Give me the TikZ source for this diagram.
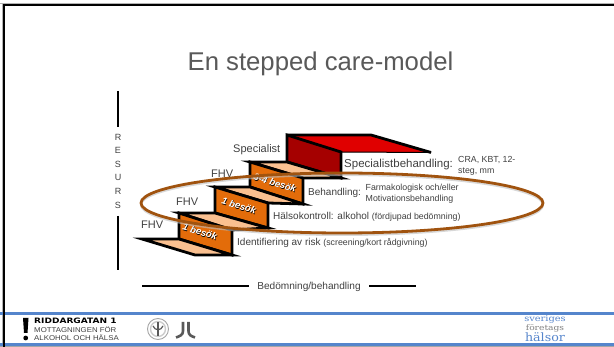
\documentclass[tikz,border=0pt]{standalone}
\usepackage{fontspec}
\setmainfont{Liberation Sans}
\newfontfamily\serifb{DejaVu Serif}
\newfontfamily\wideb{DejaVu Sans}
\definecolor{stepo}{HTML}{E36C0A}
\definecolor{tread}{HTML}{FAC090}
\definecolor{redtop}{HTML}{E00000}
\definecolor{reddark}{HTML}{A50000}
\definecolor{ringc}{HTML}{A0530F}
\definecolor{bluebar}{HTML}{5585CC}
\definecolor{txt}{HTML}{404040}
\definecolor{titlec}{HTML}{595959}
\tikzset{
 x=1pt,y=-1pt,
 stair/.style={draw=black,line width=2.8pt,line join=miter},
 lbl/.style={inner sep=0pt,text=txt,anchor=west,font=\fontsize{10}{12}\selectfont},
 lblb/.style={lbl,font=\fontsize{11}{13}\selectfont},
 small/.style={inner sep=0pt,text=txt,anchor=west,align=left,font=\fontsize{8.8}{11}\selectfont},
 visit/.style={inner sep=0pt,text=white,font=\bfseries\itshape\fontsize{9.5}{11}\selectfont},
 axisline/.style={draw=black,line width=2pt},
}
\begin{document}
\begin{tikzpicture}
\useasboundingbox (0,0) rectangle (614,347);
\fill[white] (0,0) rectangle (614,347);
\fill[gray!60] (0,3) rectangle (614,3.8);
\fill[gray!60] (2,3) rectangle (2.8,347);
\draw[black,line width=2.6pt] (4,347) -- (4,5) -- (614,5);
% title
\node[inner sep=0pt,text=titlec,font=\fontsize{25.7}{30}\selectfont] (title) at (320.5,64) {En stepped care-model};
% resurs axis
\node[inner sep=0pt,text=txt,align=center,font=\fontsize{9}{13.6}\selectfont] (res) at (118,171) {R\\E\\S\\U\\R\\S};
\coordinate (r1) at (118,91);
\coordinate (r1e) at (118,127);
\coordinate (r2) at (118,216);
\coordinate (r2e) at (118,270);
\draw[axisline] (r1) -- (r1e);
\draw[axisline] (r2) -- (r2e);
% stairs
\fill[redtop] (287,135) -- (371,135) -- (431,152.5) -- (341,152) -- cycle;
\draw[black,line width=1pt] (341,152) -- (431,152.5);
\draw[stair] (287,135) -- (371,135) -- (431,152.5);
\draw[stair,fill=reddark] (287,135) -- (341,152) -- (341,178) -- (287,162) -- cycle;
\draw[stair,fill=tread] (250,162) -- (287,162) -- (341,178) -- (303,178) -- cycle;
\draw[stair,fill=stepo] (250,162) -- (303,178) -- (303,204) -- (250,187) -- cycle;
\draw[stair,fill=tread] (215,187) -- (250,187) -- (303,204) -- (268,203) -- cycle;
\draw[stair,fill=stepo] (215,187) -- (268,203) -- (268,228) -- (215,213) -- cycle;
\draw[stair,fill=tread] (179,213) -- (215,213) -- (268,228) -- (232,230) -- cycle;
\draw[stair,fill=stepo] (179,213) -- (232,230) -- (232,255) -- (179,239) -- cycle;
\draw[stair,fill=tread] (142,239) -- (179,239) -- (232,255) -- (195,255) -- cycle;
% visit labels
\node[visit,rotate=-17] (v3) at (275,183) {\rlap{\raisebox{-.6pt}{\kern.6pt\textcolor{black}{3-4 besök}}}3-4 besök};
\node[visit,rotate=-17] (v2) at (239,206) {\rlap{\raisebox{-.6pt}{\kern.6pt\textcolor{black}{1 besök}}}1 besök};
\node[visit,rotate=-17] (v1) at (200,232) {\rlap{\raisebox{-.6pt}{\kern.6pt\textcolor{black}{1 besök}}}1 besök};
% role labels
\node[lblb] (s) at (233,150) {Specialist};
\node[lblb] (f3) at (211,174) {FHV};
\node[lblb] (f2) at (176,202) {FHV};
\node[lblb] (f1) at (141,225) {FHV};
% right labels
\node[lbl,font=\fontsize{11.5}{13}\selectfont] (a) at (344,165) {Specialistbehandling:};
\node[small] (a2) at (458,166) {CRA, KBT, 12-\\steg, mm};
\node[lbl] (b) at (308,193) {Behandling:};
\node[small] (b2) at (365.5,193.5) {Farmakologisk och/eller\\Motivationsbehandling};
\node[lbl] (c) at (273,217) {Hälsokontroll: alkohol \fontsize{8.8}{10}\selectfont(fördjupad bedömning)};
\node[lbl] (d) at (237,243) {Identifiering av risk \fontsize{8.8}{10}\selectfont(screening/kort rådgivning)};
% ring
\draw[gray!50,line width=2pt,opacity=.6] (342,205) ellipse [x radius=201,y radius=30];
\draw[ringc,line width=2.8pt] (342,203) ellipse [x radius=201,y radius=30];
% bottom axis
\node[inner sep=0pt,text=txt,font=\fontsize{10.1}{12}\selectfont] (bb) at (309,287) {Bedömning/behandling};
\coordinate (b1) at (142,286);
\coordinate (b1e) at (249,286);
\coordinate (b2s) at (369,286);
\coordinate (b2e) at (416,286);
\draw[axisline] (b1) -- (b1e);
\draw[axisline] (b2s) -- (b2e);
% footer
\fill[bluebar] (0,312) rectangle (614,315);
\fill[bluebar] (0,343) rectangle (614,346);
\fill[gray!70] (0,346) rectangle (614,347);
\draw[black,line width=2.6pt] (4,312) -- (4,347);
% riddargatan logo
\fill[black] (23,318) -- (28.5,318) -- (27.5,333) -- (24,333) -- cycle;
\fill[black] (25.7,338) circle (2.4);
\node[inner sep=0pt,anchor=west,xscale=1.22,font=\wideb\bfseries\fontsize{7.4}{8}\selectfont] (lg1) at (34,321) {RIDDARGATAN 1};
\node[inner sep=0pt,anchor=west,xscale=1.12,text=txt,font=\fontsize{7}{8}\selectfont] (lg2) at (34,329.5) {MOTTAGNINGEN FÖR};
\node[inner sep=0pt,anchor=west,xscale=1.12,text=txt,font=\fontsize{7}{8}\selectfont] (lg3) at (34,338) {ALKOHOL OCH HÄLSA};
% seal
\draw[gray!70,line width=.9pt] (158,329) circle (10.5);
\draw[gray!40,line width=1.4pt] (158,329) circle (7.5);
\draw[gray!70!black,line width=1.3pt] (158,322.5) -- (158,336);
\draw[gray!70!black,line width=1.2pt] (153,326) .. controls (155,331) and (161,331) .. (163,326);
% JL logo
\draw[gray!70!black,line width=2.6pt] (183,322) -- (183,331) .. controls (183,335) and (180,336) .. (176,337.5);
\draw[gray!70!black,line width=2.6pt] (188.5,322) -- (188.5,331) .. controls (188.5,335) and (191,336) .. (195,337.5);
% sveriges foretags halsor
\node[inner sep=0pt,xscale=1.2,text=bluebar,font=\serifb\fontsize{8.2}{8}\selectfont] (sv) at (545,319.5) {sveriges};
\node[inner sep=0pt,xscale=1.2,text=gray,font=\serifb\fontsize{7.6}{8}\selectfont] (fo) at (545,328.5) {företags};
\node[inner sep=0pt,xscale=1.1,text=bluebar,font=\serifb\fontsize{11.5}{12}\selectfont] (ha) at (545,337.5) {hälsor};
\end{tikzpicture}
\end{document}
